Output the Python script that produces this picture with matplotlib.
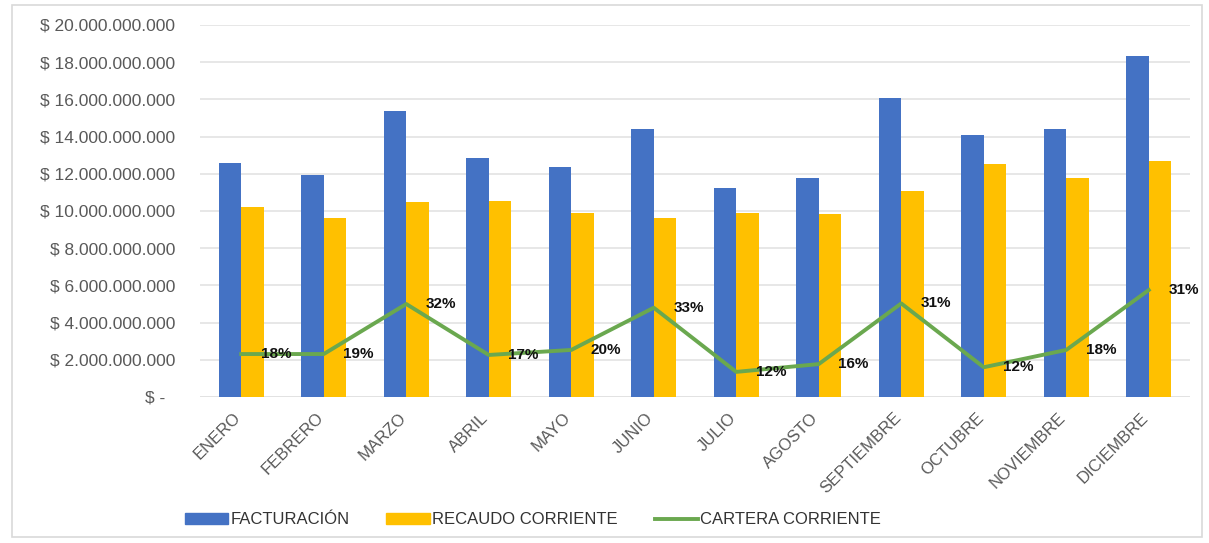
import matplotlib
matplotlib.use("Agg")
import matplotlib.pyplot as plt
from matplotlib.patches import Rectangle
from matplotlib.lines import Line2D
from matplotlib.transforms import ScaledTranslation
import numpy as np

meses = ["ENERO", "FEBRERO", "MARZO", "ABRIL", "MAYO", "JUNIO", "JULIO",
         "AGOSTO", "SEPTIEMBRE", "OCTUBRE", "NOVIEMBRE", "DICIEMBRE"]
facturacion = [12.58e9, 11.94e9, 15.40e9, 12.85e9, 12.37e9, 14.40e9, 11.24e9,
               11.77e9, 16.08e9, 14.08e9, 14.40e9, 18.35e9]
recaudo = [10.20e9, 9.63e9, 10.50e9, 10.55e9, 9.90e9, 9.60e9, 9.90e9,
           9.84e9, 11.07e9, 12.52e9, 11.80e9, 12.69e9]
cartera = [2.31e9, 2.31e9, 5.00e9, 2.26e9, 2.53e9, 4.80e9, 1.35e9,
           1.77e9, 5.03e9, 1.60e9, 2.53e9, 5.75e9]
porcentajes = ["18%", "19%", "32%", "17%", "20%", "33%", "12%",
               "16%", "31%", "12%", "18%", "31%"]
yticks = [0, 2e9, 4e9, 6e9, 8e9, 10e9, 12e9, 14e9, 16e9, 18e9, 20e9]
series = ["FACTURACIÓN", "RECAUDO CORRIENTE", "CARTERA CORRIENTE"]

plt.rcParams['font.family'] = ['Liberation Sans', 'DejaVu Sans']

BLUE = "#4472C4"
YELLOW = "#FFC000"
GREEN = "#6AA84F"
GREY = "#595959"

fig = plt.figure(figsize=(12.09, 5.43), dpi=100)
ax = fig.add_axes([200/1209, 1-397/543, 990/1209, 372/543])

x = np.arange(len(meses))
w = 0.27
ax.bar(x - w/2, facturacion, width=w, color=BLUE, zorder=2)
ax.bar(x + w/2, recaudo, width=w, color=YELLOW, zorder=2)
ax.plot(x, cartera, color=GREEN, lw=2.8, zorder=3)
for xi, yi, p in zip(x, cartera, porcentajes):
    ax.annotate(p, (xi, yi), xytext=(14, 0), textcoords="offset points",
                ha="left", va="center", fontsize=11, fontweight="bold",
                color="#111111", zorder=4)

ax.set_xlim(-0.5, len(meses) - 0.5)
ax.set_ylim(0, 20e9)
ax.set_yticks(yticks)

def fmt(v):
    if v == 0:
        return "$ -  "
    return "$ " + f"{int(v):,}".replace(",", ".")

ax.set_yticklabels([fmt(v) for v in yticks], fontsize=12.5, color=GREY)
ax.set_xticks(x)
ax.set_xticklabels([])
lab_tr = ax.get_xaxis_transform() + ScaledTranslation(-8/100, -13/100, fig.dpi_scale_trans)
for xi, m in zip(x, meses):
    ax.text(xi, 0, m, transform=lab_tr, rotation=45, ha="right", va="top",
            rotation_mode="anchor", fontsize=12, color=GREY, clip_on=False)
ax.tick_params(axis="both", length=0)
ax.tick_params(axis="y", pad=18)
ax.grid(axis="y", color="#E3E3E3", lw=1.2, zorder=0)
for s in ax.spines.values():
    s.set_visible(False)
ax.axhline(0, color="#D9D9D9", lw=1.2, zorder=1)

handles = [Rectangle((0, 0), 1, 1, color=BLUE),
           Rectangle((0, 0), 1, 1, color=YELLOW),
           Line2D([0], [0], color=GREEN, lw=2.8)]
fig.legend(handles, series, loc="center", bbox_to_anchor=(533/1209, 1-520/543),
           ncol=3, frameon=False, fontsize=12, labelcolor="#333333",
           handlelength=2.6, handleheight=0.6, handletextpad=0.15,
           columnspacing=2.2)

fig.patches.append(Rectangle((12/1209, 6/543), 1190/1209, 532/543,
                             transform=fig.transFigure, fill=False,
                             edgecolor="#D9D9D9", lw=1.2))

fig.savefig("out.png", dpi=100, facecolor="white")
